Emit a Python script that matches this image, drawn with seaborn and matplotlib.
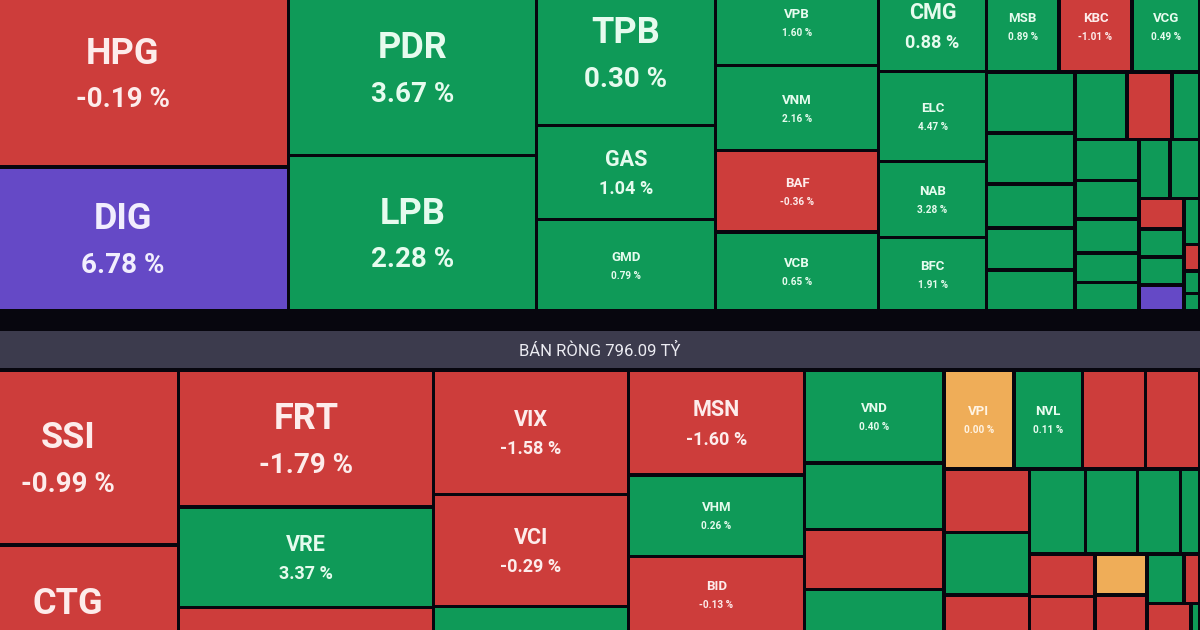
import numpy as np
import seaborn as sns
import matplotlib.pyplot as plt
from matplotlib.patches import Rectangle

# --- top panel (mua ròng / upper block) ---
top_tickers = ['HPG', 'DIG', 'PDR', 'LPB', 'TPB', 'GAS', 'GMD',
               'VPB', 'VNM', 'BAF', 'VCB', 'CMG', 'ELC', 'NAB', 'BFC',
               'MSB', 'KBC', 'VCG',
               '', '', '', '', '',
               '', '', '',
               '', '', '', '', '',
               '', '',
               '', '', '', '',
               '', '', '', '']
top_change = [-0.19, 6.78, 3.67, 2.28, 0.30, 1.04, 0.79,
              1.60, 2.16, -0.36, 0.65, 0.88, 4.47, 3.28, 1.91,
              0.89, -1.01, 0.49] + [np.nan] * 23
top_status = ['d', 'c', 'u', 'u', 'u', 'u', 'u',
              'u', 'u', 'd', 'u', 'u', 'u', 'u', 'u',
              'u', 'd', 'u',
              'u', 'u', 'u', 'u', 'u',
              'u', 'd', 'u',
              'u', 'u', 'u', 'u', 'u',
              'u', 'u',
              'd', 'u', 'u', 'c',
              'u', 'd', 'u', 'u']
top_value = [61.9, 47.7, 43.6, 38.6, 26.0, 16.8, 16.4,
             14.0, 13.8, 13.3, 12.9, 9.9, 9.7, 8.2, 7.9,
             6.67, 6.72, 6.26,
             5.40, 4.51, 3.89, 3.72, 3.63,
             3.51, 3.04, 1.89,
             2.62, 2.46, 2.18, 1.89, 1.82,
             1.83, 1.77,
             1.37, 1.26, 1.26, 1.17,
             0.74, 0.42, 0.36, 0.28]
top_group = ['0.0', '0.1', '1.0', '1.1', '2.0', '2.1', '2.2',
             '3.0', '3.1', '3.2', '3.3', '4.0', '4.1', '4.2', '4.3',
             '5.0.0', '5.0.1', '5.0.2',
             '5.1.0.0', '5.1.0.1', '5.1.0.2', '5.1.0.3', '5.1.0.4',
             '5.1.1.0.0', '5.1.1.0.1', '5.1.1.0.2',
             '5.1.1.1.0.0', '5.1.1.1.0.1', '5.1.1.1.0.2', '5.1.1.1.0.3', '5.1.1.1.0.4',
             '5.1.1.1.1.0.0', '5.1.1.1.1.0.1',
             '5.1.1.1.1.1.0.0', '5.1.1.1.1.1.0.1', '5.1.1.1.1.1.0.2', '5.1.1.1.1.1.0.3',
             '5.1.1.1.1.1.1.0', '5.1.1.1.1.1.1.1', '5.1.1.1.1.1.1.2', '5.1.1.1.1.1.1.3']

# --- bottom panel (bán ròng) ---
bot_tickers = ['SSI', 'CTG', 'FRT', 'VRE', '', 'VIX', 'VCI', '',
               'MSN', 'VHM', 'BID', '', 'VND', '', '', '',
               'VPI', 'NVL', '', '',
               '', '', '',
               '', '', '', '',
               '', '', '', '',
               '', '', '', '']
bot_change = [-0.99, np.nan, -1.79, 3.37, np.nan, -1.58, -0.29, np.nan,
              -1.60, 0.26, -0.13, np.nan, 0.40, np.nan, np.nan, np.nan,
              0.00, 0.11] + [np.nan] * 17
bot_status = ['d', 'd', 'd', 'u', 'd', 'd', 'd', 'u',
              'd', 'u', 'd', 'd', 'u', 'u', 'd', 'u',
              'r', 'u', 'd', 'd',
              'd', 'u', 'd',
              'u', 'u', 'u', 'u',
              'd', 'd', 'r', 'd',
              'u', 'd', 'd', 'u']
bot_value = [38.7, 34.7, 34.8, 25.6, 24.0, 24.1, 21.8, 18.5,
             18.4, 14.3, 13.6, 12.0, 12.9, 9.3, 8.4, 15.6,
             6.9, 6.75, 6.2, 5.37,
             5.43, 5.34, 9.11,
             4.76, 4.42, 3.66, 1.66,
             2.78, 6.88, 2.13, 5.54,
             1.83, 0.79, 4.31, 0.88]
bot_group = ['0.0', '0.1', '1.0', '1.1', '1.2', '2.0', '2.1', '2.2',
             '3.0', '3.1', '3.2', '3.3', '4.0', '4.1', '4.2', '4.3',
             '5.0.0', '5.0.1', '5.0.2', '5.0.3',
             '5.1.0.0', '5.1.0.1', '5.1.0.2',
             '5.1.1.0.0', '5.1.1.0.1', '5.1.1.0.2', '5.1.1.0.3',
             '5.1.1.1.0.0', '5.1.1.1.0.1', '5.1.1.1.1.0', '5.1.1.1.1.1',
             '5.1.1.1.2.0.0', '5.1.1.1.2.0.1', '5.1.1.1.2.1.0', '5.1.1.1.2.1.1']

band_text = 'BÁN RÒNG 796.09 TỶ'

# styles
BG = '#07060e'
BAND = '#3c3b4d'
FILL = {'u': '#0f9a58', 'd': '#cd3d3b', 'r': '#efad58', 'c': '#6549c6'}
INK = {'u': '#e6fbee', 'd': '#fdeceb', 'r': '#fff4e4', 'c': '#f1eefd'}
TIER = {'xl': (26, 20, 47), 'l': (15.5, 13, 30), 's': (9.5, 7.2, 19)}
LABEL_TIER = {}
for t in ['HPG', 'DIG', 'PDR', 'LPB', 'TPB', 'SSI', 'FRT', 'CTG']:
    LABEL_TIER[t] = 'xl'
for t in ['CMG', 'GAS', 'VIX', 'VCI', 'MSN', 'VRE']:
    LABEL_TIER[t] = 'l'


def build_tree(groups):
    tree = {}
    for i, g in enumerate(groups):
        node = tree
        keys = [int(k) for k in g.split('.')]
        for k in keys[:-1]:
            node = node.setdefault(k, {})
        node[keys[-1]] = i
    return tree


def weight(node, values):
    if isinstance(node, int):
        return values[node]
    return sum(weight(c, values) for c in node.values())


def layout(node, values, x, y, w, h, depth, out):
    # slice-and-dice: even depth splits side by side, odd depth stacks
    if isinstance(node, int):
        out[node] = (x, y, w, h)
        return
    total = weight(node, values)
    pos = 0.0
    for k in sorted(node):
        frac = weight(node[k], values) / total
        if depth % 2 == 0:
            layout(node[k], values, x + pos * w, y, w * frac, h, depth + 1, out)
        else:
            layout(node[k], values, x, y + pos * h, w, h * frac, depth + 1, out)
        pos += frac


def draw_panel(ax, tickers, change, status, values, groups, box):
    rects = {}
    layout(build_tree(groups), values, *box, 0, rects)
    for i, (x, y, w, h) in rects.items():
        ax.add_patch(Rectangle((x + 1.6, y + 1.6), w - 3.2, h - 3.2,
                               facecolor=FILL[status[i]], edgecolor='none'))
        if not tickers[i]:
            continue
        fs1, fs2, gap = TIER[LABEL_TIER.get(tickers[i], 's')]
        cx, cy = x + w / 2, y + h / 2
        ink = INK[status[i]]
        if np.isnan(change[i]):
            ax.text(cx, cy - gap / 2, tickers[i], ha='center', va='center_baseline',
                    fontsize=fs1, fontweight='bold', color=ink)
        else:
            ax.text(cx, cy - gap / 2, tickers[i], ha='center', va='center_baseline',
                    fontsize=fs1, fontweight='bold', color=ink)
            ax.text(cx, cy + gap / 2, f'{change[i]:.2f} %', ha='center', va='center_baseline',
                    fontsize=fs2, fontweight='bold', color=ink)


sns.set_theme(style='white')
plt.rcParams['font.family'] = ['Roboto', 'DejaVu Sans']

fig = plt.figure(figsize=(12, 6.3), dpi=100, facecolor=BG)
ax = fig.add_axes([0, 0, 1, 1])
ax.set_facecolor(BG)
ax.set_xlim(0, 1200)
ax.set_ylim(630, 0)
ax.axis('off')

draw_panel(ax, top_tickers, top_change, top_status, top_value, top_group,
           (-43, -20, 1243, 331))
ax.axhspan(331, 367.5, color=BAND, lw=0)
ax.text(600, 349.5, band_text, ha='center', va='center_baseline',
        fontsize=12, color='#ececf2')
draw_panel(ax, bot_tickers, bot_change, bot_status, bot_value, bot_group,
           (-43, 370.5, 1243, 331))

fig.savefig('out.png', dpi=100, facecolor=BG)
